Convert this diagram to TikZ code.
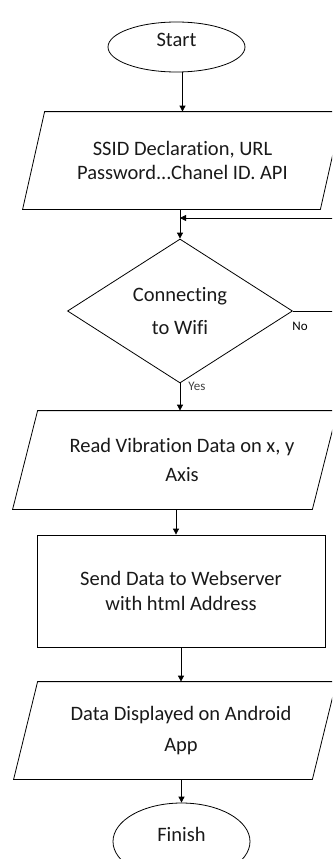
\documentclass[tikz,border=0pt]{standalone}
\usepackage{fontspec}
\setmainfont[Ligatures=NoCommon]{Carlito}
\usetikzlibrary{arrows.meta, shapes.geometric}

\begin{document}
\begin{tikzpicture}[x=1pt, y=-1pt, line width=0.8pt,
  term/.style={ellipse, draw, minimum width=137pt, inner sep=0pt, text depth=14pt},
  io/.style={rectangle, minimum height=97pt, inner sep=0pt, align=center},
  proc/.style={rectangle, draw, inner sep=0pt, align=center},
  decision/.style={diamond, draw, inner sep=0pt, align=center},
  arr/.style={-{Triangle[length=6pt, width=6pt]}},
  small/.style={font=\fontsize{13}{15}\selectfont, inner sep=0pt, anchor=base west},
  big/.style={font=\fontsize{20.5}{#1}\selectfont, text=black!90}]

  \useasboundingbox (0,0) rectangle (332,859);
  \clip (0,0) rectangle (332,859);

  % Start and finish
  \node[term, minimum height=50pt, big=25] (start) at (176.5,47) {Start};
  \node[term, minimum height=77pt, big=25] (finish) at (181.5,841.5) {Finish};

  % Input boxes
  \node[io, minimum width=297pt, big=23.5] (ssid) at (182.5,160.5) {SSID Declaration, URL\\Password...Chanel ID. API};
  \draw ([xshift=11pt]ssid.north west) -- ([xshift=11pt]ssid.north east) -- ([xshift=-11pt]ssid.south east) -- ([xshift=-11pt]ssid.south west) -- cycle;

  \node[io, minimum width=299pt, minimum height=98pt, big=29] (read) at (182,460) {Read Vibration Data on x, y\\Axis};
  \draw ([xshift=5.5pt]read.north west) -- ([xshift=5.5pt]read.north east) -- ([xshift=-19.5pt]read.south east) -- ([xshift=-19.5pt]read.south west) -- cycle;

  \node[io, minimum width=298pt, big=31] (app) at (181,730.5) {Data Displayed on Android\\App};
  \draw ([xshift=6pt]app.north west) -- ([xshift=6pt]app.north east) -- ([xshift=-18pt]app.south east) -- ([xshift=-18pt]app.south west) -- cycle;

  % Decision and process
  \node[decision, minimum width=225pt, minimum height=144pt, big=33] (wifi) at (180,311) {Connecting\\to Wifi};
  \node[proc, minimum width=288pt, minimum height=112pt, big=25] (send) at (181,591) {Send Data to Webserver\\with html Address};

  % Labels
  \node[small] (no) at (292,330) {No};
  \node[small, text=black!75] (yes) at (188,390) {Yes};

  % Arrows
  \draw[arr] (start.south -| ssid.north) -- (ssid.north);
  \draw[arr] (ssid.south -| wifi.north) -- (wifi.north);
  \draw[arr] (wifi.south) -- (wifi.south |- read.north);
  \draw[arr] ([xshift=-6pt]read.south) -- ([xshift=-6pt]read.south |- send.north);
  \draw[arr] (send.south) -- (send.south |- app.north);
  \draw[arr] (app.south -| finish.north) -- (finish.north);

  % Loop back
  \coordinate (back) at (345,218);
  \draw[arr] (wifi.east) -| (back) -- (back -| wifi.north);
\end{tikzpicture}
\end{document}
